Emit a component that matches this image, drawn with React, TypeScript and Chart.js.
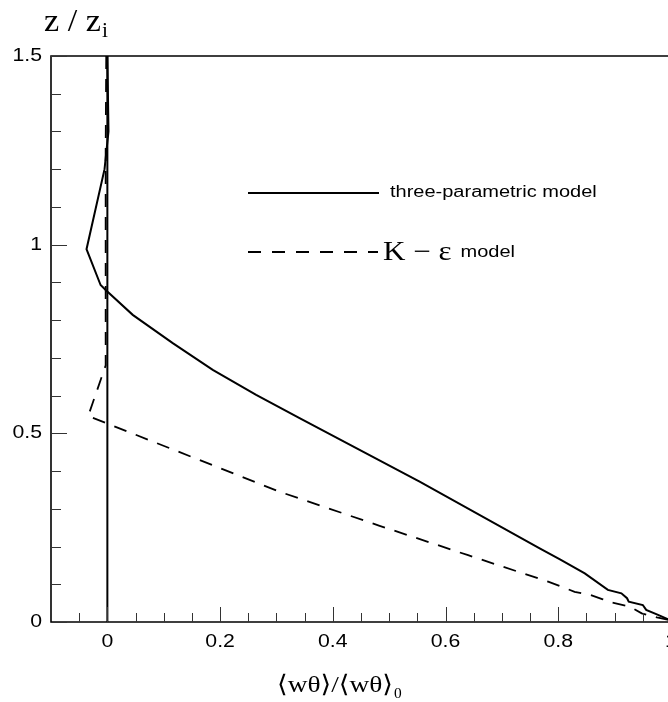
import React, { useEffect, useRef } from "react";
import { Chart, registerables } from "chart.js";

Chart.register(...registerables);

// ---- data ----
const threeParamFlux = [0, 0.002, -0.005, -0.037, -0.012, -0.003, 0.045, 0.116, 0.187, 0.264, 0.341, 0.554, 0.767, 0.803, 0.847, 0.888, 0.912, 0.922, 0.925, 0.95, 0.956, 0.977, 1.0];
const threeParamZ = [1.5, 1.3, 1.2, 0.988, 0.893, 0.88, 0.814, 0.739, 0.668, 0.602, 0.54, 0.372, 0.195, 0.166, 0.129, 0.085, 0.076, 0.063, 0.054, 0.045, 0.032, 0.019, 0.004];

const kEpsFlux = [-0.002, -0.003, -0.003, -0.003, -0.034, 0.186, 0.306, 0.483, 0.64, 0.782, 0.805, 0.829, 0.856, 0.879, 0.885, 0.9, 0.927, 0.948, 0.975, 1.0];
const kEpsZ = [1.5, 1.25, 0.9, 0.68, 0.546, 0.416, 0.345, 0.255, 0.177, 0.107, 0.094, 0.08, 0.072, 0.06, 0.055, 0.05, 0.041, 0.023, 0.012, 0.004];

const zeroLineFlux = [0, 0];
const zeroLineZ = [0, 1.5];

const xMajorTicks = [0, 0.2, 0.4, 0.6, 0.8, 1];
const xTickLabels = ["0", "0.2", "0.4", "0.6", "0.8", "1"];
const xMinorTicks = [-0.05, 0.05, 0.1, 0.15, 0.25, 0.3, 0.35, 0.45, 0.5, 0.55, 0.65, 0.7, 0.75, 0.85, 0.9, 0.95];
const yMajorTicks = [0, 0.5, 1, 1.5];
const yTickLabels = ["0", "0.5", "1", "1.5"];
const yMinorTicks = [0.1, 0.2, 0.3, 0.4, 0.6, 0.7, 0.8, 0.9, 1.1, 1.2, 1.3, 1.4];

const legendLabels = ["three-parametric model", "model"];

const toPoints = (xs: number[], ys: number[]) => xs.map((x, i) => ({ x, y: ys[i] }));

const SANS = "'Liberation Sans', Arial, sans-serif";
const SERIF = "'Liberation Serif', 'DejaVu Serif', serif";

function stretchText(
  ctx: CanvasRenderingContext2D,
  s: string,
  x: number,
  y: number,
  font: string,
  align: "left" | "center" | "right",
  sx: number,
  baseline: CanvasTextBaseline = "middle"
) {
  ctx.save();
  ctx.font = font;
  const w = ctx.measureText(s).width * sx;
  const x0 = align === "center" ? x - w / 2 : align === "right" ? x - w : x;
  ctx.translate(x0, y);
  ctx.scale(sx, 1);
  ctx.textAlign = "left";
  ctx.textBaseline = baseline;
  ctx.fillStyle = "#000";
  ctx.fillText(s, 0, 0);
  ctx.restore();
  return w;
}

const decorPlugin = {
  id: "decor",
  afterDatasetsDraw(chart: any) {
    const ctx: CanvasRenderingContext2D = chart.ctx;
    const { left, right, top, bottom } = chart.chartArea;
    const xs = chart.scales.x;
    const ys = chart.scales.y;

    // frame
    ctx.save();
    ctx.strokeStyle = "#000";
    ctx.lineWidth = 1.6;
    ctx.beginPath();
    ctx.moveTo(left, top);
    ctx.lineTo(right, top);
    ctx.lineTo(right, bottom);
    ctx.lineTo(left, bottom);
    ctx.closePath();
    ctx.stroke();

    // ticks (inward)
    ctx.strokeStyle = "#333";
    ctx.lineWidth = 1;
    const hTick = (v: number, len: number) => {
      const p = Math.round(ys.getPixelForValue(v)) + 0.5;
      ctx.beginPath();
      ctx.moveTo(left, p);
      ctx.lineTo(left + len, p);
      ctx.stroke();
    };
    const vTick = (v: number, len: number) => {
      const p = Math.round(xs.getPixelForValue(v)) + 0.5;
      ctx.beginPath();
      ctx.moveTo(p, bottom);
      ctx.lineTo(p, bottom - len);
      ctx.stroke();
    };
    yMinorTicks.forEach((v) => hTick(v, 10));
    yMajorTicks.forEach((v) => hTick(v, 16));
    xMinorTicks.forEach((v) => vTick(v, 9));
    xMajorTicks.forEach((v) => vTick(v, 15));
    ctx.restore();

    // tick labels
    yMajorTicks.forEach((v, i) =>
      stretchText(ctx, yTickLabels[i], left - 9, ys.getPixelForValue(v), `18px ${SANS}`, "right", 1.18)
    );
    xMajorTicks.forEach((v, i) =>
      stretchText(ctx, xTickLabels[i], xs.getPixelForValue(v), bottom + 20, `18px ${SANS}`, "center", 1.18)
    );

    // y title: z / z_i
    const w1 = stretchText(ctx, "z / z", 44, 31, `32px ${SERIF}`, "left", 1.07, "alphabetic");
    stretchText(ctx, "i", 44 + w1 + 1, 37, `20px ${SERIF}`, "left", 1.07, "alphabetic");

    // x title
    const xt = "\u27E8w\u03B8\u27E9/\u27E8w\u03B8\u27E9";
    const start = 277;
    const wx = stretchText(ctx, xt, start, 692, `24px ${SERIF}`, "left", 1.14, "alphabetic");
    stretchText(ctx, "0", start + wx + 1, 698, `14px ${SERIF}`, "left", 1.1, "alphabetic");

    // legend
    ctx.save();
    ctx.strokeStyle = "#000";
    ctx.lineWidth = 2;
    ctx.beginPath();
    ctx.moveTo(248, 193);
    ctx.lineTo(379, 193);
    ctx.stroke();
    ctx.setLineDash([13, 11]);
    ctx.beginPath();
    ctx.moveTo(248, 252);
    ctx.lineTo(378, 252);
    ctx.stroke();
    ctx.restore();
    stretchText(ctx, legendLabels[0], 390, 193, `16px ${SANS}`, "left", 1.25);
    const wk = stretchText(ctx, "K \u2212 \u03B5", 383, 253, `27px ${SERIF}`, "left", 1.15);
    stretchText(ctx, legendLabels[1], 383 + wk + 9, 253, `16px ${SANS}`, "left", 1.25);
  },
};

export default function App() {
  const ref = useRef<HTMLCanvasElement | null>(null);
  useEffect(() => {
    document.body.style.margin = "0";
    if (!ref.current) return;
    const chart = new Chart(ref.current, {
      type: "scatter",
      data: {
        datasets: [
          {
            label: "zero",
            data: toPoints(zeroLineFlux, zeroLineZ),
            showLine: true,
            borderColor: "#000",
            borderWidth: 2,
            pointRadius: 0,
          },
          {
            label: "K-eps model",
            data: toPoints(kEpsFlux, kEpsZ),
            showLine: true,
            borderColor: "#000",
            borderWidth: 1.8,
            borderDash: [13, 10],
            pointRadius: 0,
          },
          {
            label: "three-parametric model",
            data: toPoints(threeParamFlux, threeParamZ),
            showLine: true,
            borderColor: "#000",
            borderWidth: 2,
            pointRadius: 0,
          },
        ],
      },
      options: {
        animation: false,
        responsive: false,
        devicePixelRatio: 1,
        layout: { padding: { left: 51, right: 9, top: 56, bottom: 80 } },
        plugins: { legend: { display: false }, tooltip: { enabled: false } },
        scales: {
          x: { type: "linear", min: -0.1, max: 1, display: false },
          y: { type: "linear", min: 0, max: 1.5, display: false },
        },
      },
      plugins: [decorPlugin],
    });
    return () => chart.destroy();
  }, []);
  return (
    <div style={{ width: 668, height: 702, overflow: "hidden", background: "#fff" }}>
      <canvas ref={ref} width={680} height={702} style={{ display: "block", width: 680, height: 702 }} />
    </div>
  );
}
